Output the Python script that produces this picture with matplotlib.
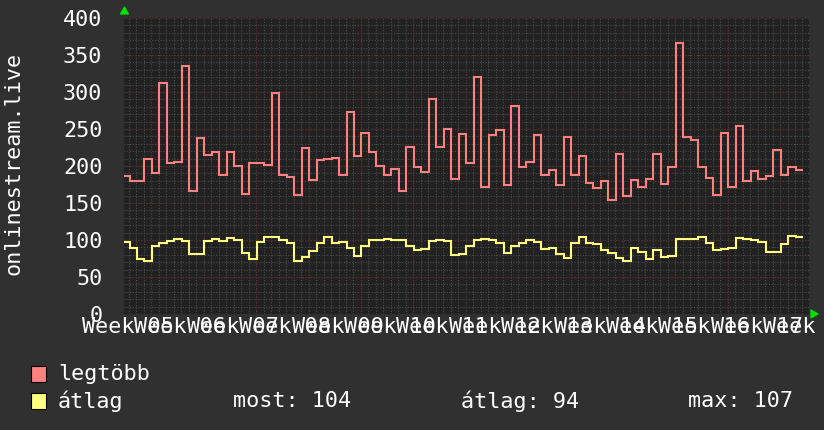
import numpy as np
import matplotlib
matplotlib.use("Agg")
import matplotlib.pyplot as plt
from matplotlib.patches import Rectangle, Polygon

# ---- Data (daily values) ----
legtobb = [186, 180, 180, 210, 190, 312, 204.5, 206, 335.6, 166,
           238, 215, 219, 188, 219, 200, 162, 204.5, 204.5, 202,
           298, 188, 185.6, 161, 225, 181.5, 208.6, 210, 211, 188,
           273, 213.5, 245, 219, 200, 188, 195.5, 166, 226, 198,
           192, 290.5, 225.7, 250.5, 183, 243.6, 204, 320.7, 172, 242,
           248.6, 174.7, 281, 199, 206, 242, 188, 195, 174.7, 239,
           188, 213.5, 177.5, 170, 180, 154, 216, 160, 181, 172,
           183, 216, 176, 198, 366.6, 239.6, 235.6, 198, 184, 161,
           245, 172, 254, 179.7, 193.7, 183, 187, 222, 188, 198, 195]

atlag = [97, 88.7, 74, 72, 92, 95.5, 99, 101, 99, 80.6,
         80.6, 98, 101, 99, 102.7, 100, 82, 74, 97.7, 104.5,
         103.6, 100, 96.4, 72, 76.6, 85, 96.4, 104.5, 96.4, 97,
         88.7, 78.8, 92, 100, 100, 101, 100, 100, 92, 86,
         88, 99, 100, 99, 80, 81, 92, 100, 101, 100,
         95.5, 82, 91.9, 95.5, 100, 97.7, 87.4, 88.7, 80.6, 76.1,
         96.4, 104.5, 96.4, 94.6, 86.5, 82, 76.1, 71.6, 89.6, 84.2,
         74.3, 86.5, 77.5, 78.4, 101.4, 101.4, 101.4, 104.5, 96.4, 86.5,
         87.4, 88.7, 102.3, 101.4, 100, 96.8, 84.2, 83.3, 94.6, 106, 104]

weeks = ["Week %02d" % w for w in range(5, 19)]
ylabel = "onlinestream.live"
legend_names = ["legtöbb", "átlag"]
stats = ["most: 104", "átlag: 94", "max: 107"]

RED = "#ff8080"
YEL = "#ffff80"
BG = "#303030"
CANVAS = "#212121"
FONT = "DejaVu Sans Mono"
FS = 15.7

# ---- Plot ----
W, H = 824, 430
fig = plt.figure(figsize=(W / 100, H / 100), dpi=100, facecolor=BG)
x0, x1, ytop, ybot = 124.5, 809, 18, 314
ax = fig.add_axes([x0 / W, (H - ybot) / H, (x1 - x0) / W, (ybot - ytop) / H])
ax.set_facecolor(CANVAS)

span = (x1 - x0) / 7.5  # days shown
ax.set_xlim(0, span)
ax.set_ylim(0, 400)

# grid: minor every day / 10 units, major every week / 50 units
for d in np.arange(0.6, span, 1.0):
    ax.axvline(d, color="#4c4c4c", lw=0.8, ls=(0, (1, 1.5)), zorder=1)
for v in range(10, 400, 10):
    ax.axhline(v, color="#4c4c4c", lw=0.8, ls=(0, (1, 1.5)), zorder=1)
for d in np.arange(3.6, span, 7.0):
    ax.axvline(d, color="#5e2a2a", lw=0.8, ls=(0, (1, 1.5)), zorder=1.5)
for v in range(50, 401, 50):
    ax.axhline(v, color="#5e2a2a", lw=0.8, ls=(0, (1, 1.5)), zorder=1.5)

edges = np.concatenate([[0], 0.67 + np.arange(len(legtobb))])
ax.stairs(legtobb, edges, color=RED, lw=1.5, baseline=None, zorder=3)
ax.stairs(atlag, edges, color=YEL, lw=1.5, baseline=None, zorder=3)

ax.set_yticks(range(0, 401, 50))
ax.set_yticklabels([str(v) for v in range(0, 401, 50)], fontfamily=FONT, fontsize=FS, color="white")
ax.set_xticks(0.47 + 7 * np.arange(len(weeks)))
ax.set_xticklabels(weeks, fontfamily=FONT, fontsize=FS, color="white")
ax.tick_params(axis="both", length=0, pad=2)
ax.tick_params(axis="y", pad=16)
for s in ax.spines.values():
    s.set_visible(False)

fig.text(14 / W, 1 - 163 / H, ylabel, rotation=90, ha="center", va="center",
         fontfamily=FONT, fontsize=FS, color="white")

# arrows at axis ends
fig.patches.append(Polygon([[(x0 - 4) / W, 1 - 14 / H], [(x0 + 4) / W, 1 - 14 / H], [x0 / W, 1 - 7 / H]],
                           closed=True, transform=fig.transFigure, color="#00dd00"))
fig.patches.append(Polygon([[(x1 + 2) / W, 1 - 310 / H], [(x1 + 2) / W, 1 - 318 / H], [(x1 + 9) / W, 1 - 314 / H]],
                           closed=True, transform=fig.transFigure, color="#00dd00"))

# legend
for i, (name, col) in enumerate(zip(legend_names, [RED, YEL])):
    yc = 374 + 27 * i
    fig.patches.append(Rectangle((31 / W, 1 - (yc + 8) / H), 15 / W, 16 / H,
                                 transform=fig.transFigure, facecolor=col, edgecolor="black", lw=0.8))
    fig.text(58 / W, 1 - yc / H, name, ha="left", va="center", fontfamily=FONT, fontsize=FS, color="white")
for s, xs in zip(stats, [233, 461, 688]):
    fig.text(xs / W, 1 - 401 / H, s, ha="left", va="center", fontfamily=FONT, fontsize=FS, color="white")

fig.savefig("out.png", dpi=100, facecolor=BG)
